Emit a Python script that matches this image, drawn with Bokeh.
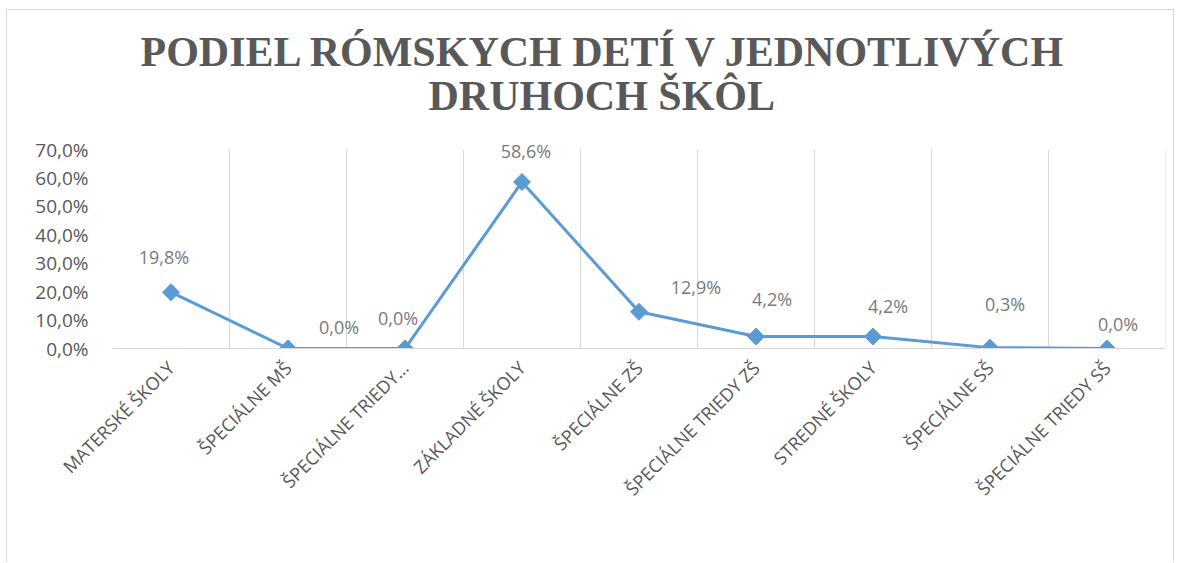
from math import pi
from bokeh.plotting import figure
from bokeh.models import (FixedTicker, CustomJSTickFormatter, ColumnDataSource,
                          LabelSet, Title, Range1d)
from bokeh.core.properties import value
from bokeh.embed import file_html
from bokeh.resources import INLINE

# ---- data ----
categories = ["MATERSKÉ ŠKOLY", "ŠPECIÁLNE MŠ", "ŠPECIÁLNE TRIEDY…", "ZÁKLADNÉ ŠKOLY",
              "ŠPECIÁLNE ZŠ", "ŠPECIÁLNE TRIEDY ZŠ", "STREDNÉ ŠKOLY", "ŠPECIÁLNE SŠ",
              "ŠPECIÁLNE TRIEDY SŠ"]
values = [19.8, 0.0, 0.0, 58.6, 12.9, 4.2, 4.2, 0.3, 0.0]
y_ticks = [0, 10, 20, 30, 40, 50, 60, 70]
title_lines = ["PODIEL RÓMSKYCH DETÍ V JEDNOTLIVÝCH", "DRUHOCH ŠKÔL"]

# label placement offsets (pixels), as placed in the original chart
label_dx = [-7, 51, -7, 4, 57, 16, 15, 15, 11]
label_dy = [35, 22, 31, 31, 25, 38, 31, 44, 25]

xs = list(range(len(categories)))
labels = [f"{v:.1f}".replace(".", ",") + "%" for v in values]
src = ColumnDataSource(dict(x=xs, y=values, lab=labels, dx=label_dx, dy=label_dy))

y_top = y_ticks[-1]
p = figure(width=1168, height=553, output_backend="svg", toolbar_location=None,
           x_range=Range1d(-0.5, len(categories) - 0.5), y_range=Range1d(0, y_top * 76 / 70),
           min_border_left=105, min_border_right=10, min_border_top=122,
           min_border_bottom=215)
p.styles = {"margin-left": "6px", "margin-top": "9px",
            "border-left": "1px solid #D9D9D9", "border-right": "1px solid #D9D9D9",
            "border-top": "1px solid #D9D9D9"}
p.outline_line_color = None
p.background_fill_color = "white"
p.border_fill_color = "white"

title_style = dict(align="left", text_font="Liberation Serif", text_font_style="bold",
                   text_font_size="42px", text_color="#595959")
t2 = Title(text=title_lines[1], offset=316, standoff=28, **title_style)
t1 = Title(text=title_lines[0], offset=28, **title_style)
try:
    t1.standoff = -37
except Exception:
    t1.standoff = 0
p.add_layout(t2, "above")
p.add_layout(t1, "above")

# vertical category-boundary grid lines (from 0 up to the top tick)
grid_x = [i + 0.5 for i in xs]
p.segment(x0=grid_x, y0=[0] * len(grid_x), x1=grid_x, y1=[y_top] * len(grid_x),
          line_color="#D9D9D9", line_width=1)

p.line("x", "y", source=src, line_color="#5B9BD5", line_width=3)
p.scatter("x", "y", source=src, marker="square", angle=pi / 4, size=12,
          fill_color="#5B9BD5", line_color="#5B9BD5")

ls = LabelSet(x="x", y="y", text="lab", source=src, x_offset="dx", y_offset="dy",
              text_align="center", text_baseline="middle", text_font=value("Open Sans"),
              text_font_size="18px", text_color="#7A7A7A")
p.add_layout(ls)

# axes
p.xaxis.ticker = FixedTicker(ticks=xs)
p.xaxis.major_label_overrides = {i: c for i, c in enumerate(categories)}
p.xaxis.major_label_orientation = pi / 4
p.xaxis.major_label_text_font = "Open Sans"
p.xaxis.major_label_text_font_size = "18px"
p.xaxis.major_label_text_color = "#595959"
p.xaxis.major_label_standoff = 10
p.xaxis.axis_line_color = "#D9D9D9"
p.xaxis.axis_line_width = 1
p.xaxis.major_tick_line_color = None
p.xaxis.minor_tick_line_color = None

p.yaxis.ticker = FixedTicker(ticks=y_ticks)
p.yaxis.formatter = CustomJSTickFormatter(code="return tick.toFixed(1).replace('.', ',') + '%';")
p.yaxis.major_label_text_font = "Open Sans"
p.yaxis.major_label_text_font_size = "19px"
p.yaxis.major_label_text_color = "#595959"
p.yaxis.axis_line_color = None
p.yaxis.major_tick_line_color = None
p.yaxis.minor_tick_line_color = None
p.yaxis.major_label_standoff = 18

p.xgrid.visible = False
p.ygrid.visible = False

open("out.html", "w").write(file_html(p, INLINE))
